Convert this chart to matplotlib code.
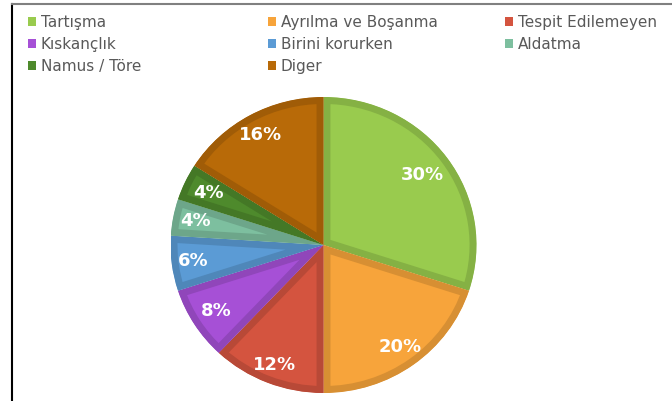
import matplotlib
matplotlib.use("Agg")
import matplotlib.pyplot as plt
import matplotlib.colors as mcolors
from matplotlib.patches import Patch
from matplotlib.lines import Line2D
import numpy as np

categories = ["Tartışma", "Ayrılma ve Boşanma", "Tespit Edilemeyen", "Kıskançlık",
              "Birini korurken", "Aldatma", "Namus / Töre", "Diger"]
values = [30, 20, 12, 8, 6, 4, 4, 16]
labels = ["30%", "20%", "12%", "8%", "6%", "4%", "4%", "16%"]

colors = ["#99CB4E", "#F7A43B", "#D4543F", "#A650D6", "#5B9BD5", "#7DBF9F", "#4E8A2C", "#B86A08"]
label_r = [0.80, 0.85, 0.87, 0.83, 0.86, 0.85, 0.83, 0.85]

def darker(c, f=0.87):
    r, g, b = mcolors.to_rgb(c)
    return (r * f, g * f, b * f)

plt.rcParams['font.family'] = ['DejaVu Sans']

fig = plt.figure(figsize=(6.72, 4.01), dpi=100)
cx, cy, RX, RY = 323.5, 245, 153, 148
W, H = 672, 401
ax = fig.add_axes([(cx - RX) / W, (H - cy - RY) / H, 2 * RX / W, 2 * RY / H])
wedges, _ = ax.pie(values, colors=colors, startangle=90, counterclock=False, radius=1.0,
                   wedgeprops=dict(linewidth=10))
for w, c in zip(wedges, colors):
    w.set_edgecolor(darker(c))
    w.set_clip_on(True)
    w.set_clip_path(w)

for w, lab, rr in zip(wedges, labels, label_r):
    ang = np.deg2rad((w.theta1 + w.theta2) / 2)
    ax.text(rr * np.cos(ang), rr * np.sin(ang), lab, ha="center", va="center",
            color="white", fontsize=13, fontweight="bold")
ax.set_xlim(-1, 1)
ax.set_ylim(-1, 1)
ax.set_aspect("auto")
ax.axis("off")

columns = [[0, 3, 6], [1, 4, 7], [2, 5]]
col_x = [28, 268, 505]
for idxs, x in zip(columns, col_x):
    handles = [Patch(facecolor=colors[i], edgecolor="none", label=categories[i]) for i in idxs]
    leg = fig.legend(handles=handles, ncol=1, loc="upper left", bbox_to_anchor=(x / W, 1 - 15 / H),
                     frameon=False, fontsize=11, handlelength=0.5, handleheight=0.5,
                     handletextpad=0.35, labelspacing=0.45, borderaxespad=0, borderpad=0)
    for t in leg.get_texts():
        t.set_color("#595959")

fig.add_artist(Line2D([11.5 / W, 11.5 / W], [0, 1 - 4 / H], color="black", lw=1.5))
fig.add_artist(Line2D([11.5 / W, 1], [1 - 4 / H, 1 - 4 / H], color="#808080", lw=1.5))

fig.savefig("out.png", dpi=100)
